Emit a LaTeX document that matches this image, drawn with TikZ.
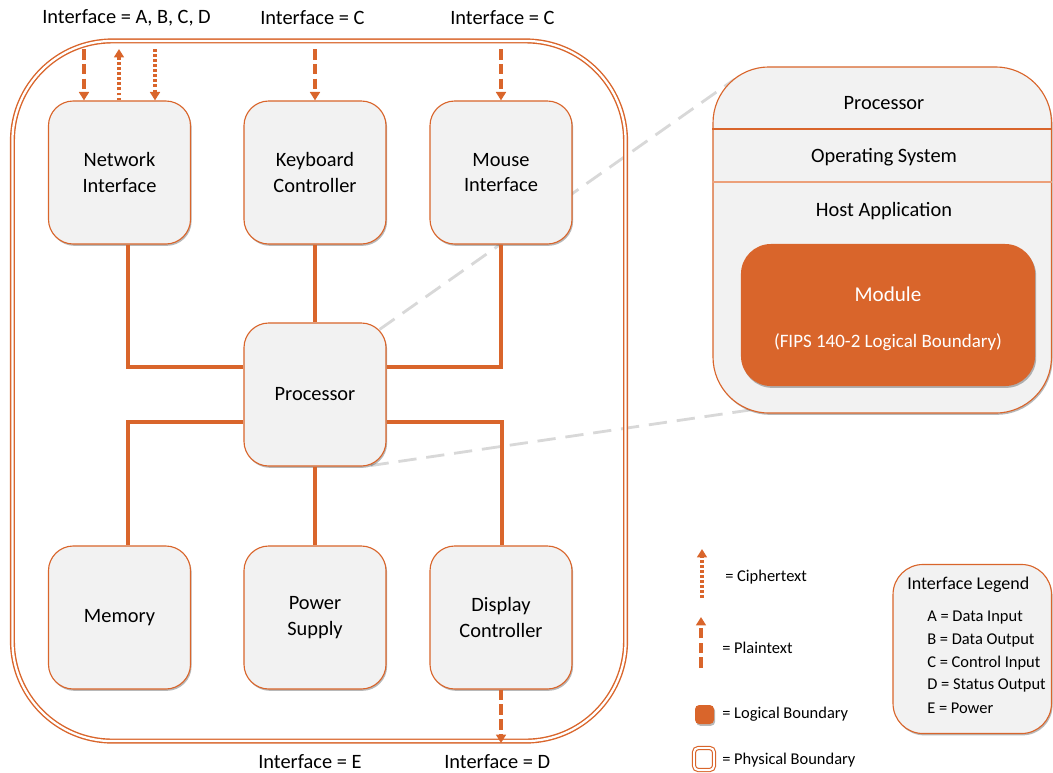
\documentclass[tikz,border=0pt]{standalone}
\usepackage{fontspec}
\setmainfont{Carlito}
\usepackage{xcolor}
\usetikzlibrary{arrows.meta,shadows,backgrounds,calc,positioning}

\definecolor{fipsorange}{RGB}{217,101,43}
\definecolor{boxgray}{RGB}{242,242,242}
\definecolor{linkgray}{RGB}{216,216,216}
\definecolor{paleorange}{RGB}{236,160,122}

\begin{document}
\begin{tikzpicture}[x=0.025cm, y=-0.025cm,
    softshadow/.style={drop shadow={shadow xshift=0.8pt, shadow yshift=-1.3pt, opacity=0.28, fill=black}},
    unit/.style={rectangle, rounded corners=0.62cm, draw=fipsorange, line width=0.8pt,
        fill=boxgray, minimum width=3.55cm, minimum height=3.575cm, align=center,
        font=\fontsize{14.5}{18}\selectfont, softshadow},
    bus/.style={draw=fipsorange, line width=2.2pt},
    plainflow/.style={draw=fipsorange, line width=2.2pt, dash pattern=on 7.5pt off 3pt,
        -{Triangle[length=6pt,width=7pt]}},
    cipherflow/.style={draw=fipsorange, line width=2.2pt, dash pattern=on 2pt off 1.6pt,
        -{Triangle[length=6pt,width=7pt]}},
    link/.style={draw=linkgray, line width=2pt, dash pattern=on 13pt off 7pt},
    lbl/.style={anchor=west, inner sep=0pt, font=\fontsize{14.5}{17.8}\selectfont},
    hosttext/.style={inner sep=0pt, font=\fontsize{14.5}{17.8}\selectfont},
    legtext/.style={anchor=west, inner sep=0pt, font=\fontsize{11.7}{14}\selectfont},
]

    \useasboundingbox (0,0) rectangle (1053,772);

    %physical boundary
    \node (physbound) at (319,391) [draw=fipsorange, line width=1pt, double=white,
        double distance=1.6pt, rounded corners=2.5cm,
        minimum width=15.325cm, minimum height=17.5cm] {};

    %components
    \node[unit] (net) at (119.5,172.5) {Network\\Interface};
    \node[unit] (kbd) at (315,172.5) {Keyboard\\Controller};
    \node[unit] (mouse) at (501,172.5) {Mouse\\Interface};
    \node[unit] (proc) at (315,394.5) {Processor};
    \node[unit] (mem) at (119.5,617.5) {Memory};
    \node[unit] (power) at (315,617.5) {Power\\Supply};
    \node[unit] (disp) at (501,617.5) {Display\\Controller};

    %buses
    \draw[bus] (net.south -| 128,0) |- (proc.west |- 0,367);
    \draw[bus] (kbd.south) -- (proc.north);
    \draw[bus] (mouse.south -| 501,0) |- (proc.east |- 0,367);
    \draw[bus] (proc.west |- 0,422) -| (mem.north -| 128,0);
    \draw[bus] (proc.south) -- (power.north);
    \draw[bus] (proc.east |- 0,422) -| (disp.north -| 502,0);

    %interfaces
    \coordinate (netA) at (84,49);
    \coordinate (netB) at (119,49);
    \coordinate (netC) at (155,49);
    \coordinate (kbdC) at (315,49);
    \coordinate (mouseC) at (501,49);
    \coordinate (dispD) at (501,743);
    \draw[plainflow] (netA) -- (net.north -| netA);
    \draw[cipherflow] (net.north -| netB) -- (netB);
    \draw[cipherflow] (netC) -- (net.north -| netC);
    \draw[plainflow] (kbdC) -- (kbd.north);
    \draw[plainflow] (mouseC) -- (mouse.north);
    \draw[plainflow] (disp.south) -- (dispD);

    \node[lbl] (ifnet) at (42,18) {Interface = A, B, C, D};
    \node[lbl] (ifkbd) at (260,18) {Interface = C};
    \node[lbl] (ifmouse) at (450,18) {Interface = C};
    \node[lbl] (ifpower) at (258,762) {Interface = E};
    \node[lbl] (ifdisp) at (444,762) {Interface = D};

    %host panel
    \node (hostbox) at (882.25,240) [draw=fipsorange, line width=0.8pt, fill=boxgray,
        rounded corners=1.4cm, minimum width=8.46cm, minimum height=8.65cm, softshadow] {};
    \draw[fipsorange, line width=0.8pt] (hostbox.west |- 0,129) -- (hostbox.east |- 0,129);
    \draw[paleorange, line width=1.4pt] (hostbox.west |- 0,182) -- (hostbox.east |- 0,182);
    \node[hosttext] (hostproc) at (884,103) {Processor};
    \node[hosttext] (hostos) at (884,157) {Operating System};
    \node[hosttext] (hostapp) at (884,211) {Host Application};
    \node (module) at (888,315) [fill=fipsorange, rounded corners=0.75cm,
        minimum width=7.35cm, minimum height=3.55cm, softshadow] {};
    \node (modtext) at (888,319) [text=white, align=center, inner sep=0pt,
        font=\fontsize{13.5}{16.4}\selectfont]
        {{\fontsize{15}{16.4}\selectfont Module}\\ ~ \\(FIPS 140-2 Logical Boundary)};

    %dashed links
    \begin{pgfonlayer}{background}
        \draw[link] ([shift={(-7,7)}]proc.north east) -- ($(hostbox.north west)+(22,13)$);
        \draw[link] ([shift={(-16,-1)}]proc.south east) -- ($(hostbox.south west)+(47,-5)$);
    \end{pgfonlayer}

    %legend
    \coordinate (cipherlo) at (702,598);
    \coordinate (cipherhi) at (702,549);
    \coordinate (plainlo) at (701,668);
    \coordinate (plainhi) at (701,617);
    \draw[cipherflow] (cipherlo) -- (cipherhi);
    \draw[plainflow] (plainlo) -- (plainhi);
    \node[legtext] (ciphertext) at (725,577) {= Ciphertext};
    \node[legtext] (plaintext) at (722,648) {= Plaintext};

    \node (logsym) at (704.5,714.5) [fill=fipsorange, rounded corners=3pt,
        minimum size=0.475cm, inner sep=0pt, softshadow] {};
    \node (physsym) at (704,759) [draw=fipsorange, line width=0.8pt, double=white,
        double distance=1.4pt, rounded corners=3pt, minimum width=0.5cm,
        minimum height=0.55cm, inner sep=0pt] {};
    \node[legtext] (logtext) at (722,714) {= Logical Boundary};
    \node[legtext] (phystext) at (722,760) {= Physical Boundary};

    \node (ilegend) at (972.25,649) [draw=fipsorange, line width=0.8pt, fill=boxgray,
        rounded corners=0.75cm, minimum width=3.96cm, minimum height=4.225cm, softshadow] {};
    \node[anchor=west, inner sep=0pt, font=\fontsize{12.8}{15}\selectfont] (ltitle) at (907,585) {Interface Legend};
    \foreach \y/\txt [count=\i] in {618/A = Data Input, 640/B = Data Output,
        663/C = Control Input, 685/D = Status Output, 708/E = Power}
        \node[legtext] (litem\i) at (927,\y) {\txt};

\end{tikzpicture}
\end{document}
